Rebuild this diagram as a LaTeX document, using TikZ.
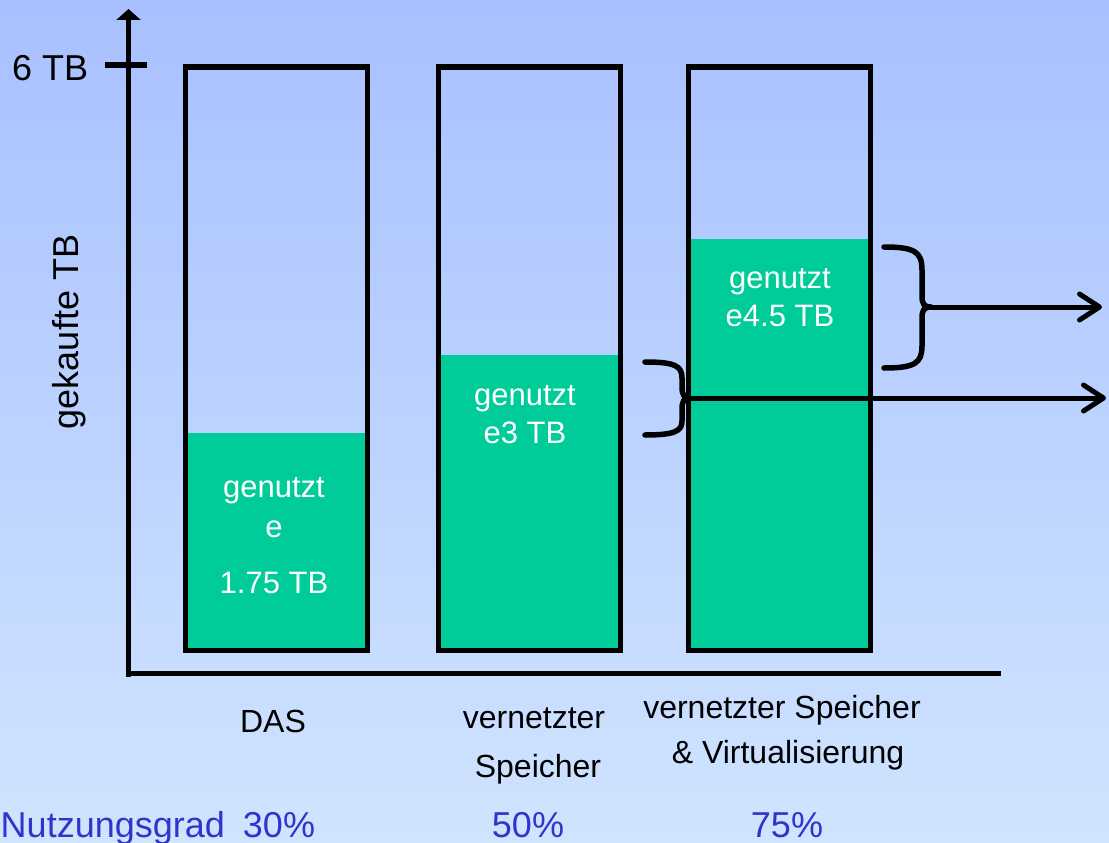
\documentclass[tikz,border=0pt]{standalone}
\usepackage{fontspec}
\setmainfont{Liberation Sans}
\usetikzlibrary{arrows.meta}
\definecolor{bgtop}{RGB}{168,192,255}
\definecolor{bgbot}{RGB}{208,228,255}
\definecolor{used}{RGB}{0,204,153}
\definecolor{ratio}{RGB}{51,51,204}

\begin{document}
\begin{tikzpicture}[x=1pt, y=-1pt, line width=5.5pt,
  txt/.style={inner sep=0pt, anchor=base},
  bartxt/.style={txt, text=white, font=\fontsize{31}{36}\selectfont},
  lbl/.style={txt, font=\fontsize{32}{38}\selectfont},
  axislbl/.style={txt, font=\fontsize{36}{42}\selectfont},
  ratiotxt/.style={txt, text=ratio, font=\fontsize{36}{42}\selectfont},
  usedfill/.style={fill=used, draw=none},
  barframe/.style={draw=black, line width=5.5pt},
  brace/.style={draw=black, line width=5.5pt, line cap=round, line join=round},
  outarrow/.style={draw=black, line width=5pt, -{Straight Barb[length=20pt,width=26pt,round]}},
]
% background
\shade[top color=bgtop, bottom color=bgbot] (0,0) rectangle (1109,843);
\useasboundingbox (0,0) rectangle (1109,843);

% axes
\coordinate (ybase) at (128.5,677);
\coordinate (ytop)  at (128.5,9);
\coordinate (xbase) at (126,673.5);
\coordinate (xend)  at (1001,673.5);
\draw[-{Triangle[length=11pt,width=24pt]}] (ybase) -- (ytop);
\draw (xbase) -- (xend);
\coordinate (tickL) at (105,65);
\coordinate (tickR) at (147,65);
\draw (tickL) -- (tickR);
\node[axislbl, anchor=base east] (sixtb) at (91,81) {6 TB};
\node[axislbl, rotate=90] (ylabel) at (78,332) {gekaufte TB};

% bars: used part, then frame
\fill[used] (185.5,433) rectangle (367.5,650.5);
\draw[barframe] (185.5,67) rectangle (367.5,650.5);
\fill[used] (438.5,355) rectangle (620.5,650.5);
\draw[barframe] (438.5,67) rectangle (620.5,650.5);
\fill[used] (688.5,239) rectangle (870.5,650.5);
\draw[barframe] (688.5,67) rectangle (870.5,650.5);

% text inside bars
\node[bartxt] (u1a) at (274,497) {genutzt};
\node[bartxt] (u1b) at (274,537) {e};
\node[bartxt] (u1c) at (274,593) {1.75 TB};
\node[bartxt] (u2a) at (525,405) {genutzt};
\node[bartxt] (u2b) at (525,443) {e3 TB};
\node[bartxt] (u3a) at (780,288) {genutzt};
\node[bartxt] (u3b) at (780,326) {e4.5 TB};

% braces
\coordinate (tipA) at (690,398);
\coordinate (endA) at (1106,398);
\draw[brace] (645,362) .. controls (675,362) and (682,366) .. (682,378)
  -- (682,387) .. controls (682,395) and (684,398) .. (tipA)
  .. controls (684,398) and (682,401) .. (682,409)
  -- (682,421) .. controls (682,431) and (675,435) .. (645,435);
\coordinate (tipB) at (931,307);
\coordinate (endB) at (1102,307);
\draw[brace] (884,247) .. controls (915,247) and (922,252) .. (922,270)
  -- (922,296) .. controls (922,304) and (924,307) .. (tipB)
  .. controls (924,307) and (922,310) .. (922,318)
  -- (922,346) .. controls (922,363) and (915,368) .. (884,368);
\draw[outarrow] (tipA) -- (endA);
\draw[outarrow] (tipB) -- (endB);

% category labels
\node[lbl] (das) at (273,732) {DAS};
\node[lbl] (vs1) at (534,728) {vernetzter};
\node[lbl] (vs2) at (538,777) {Speicher};
\node[lbl] (vv1) at (782,718) {vernetzter Speicher};
\node[lbl] (vv2) at (788,763) {\& Virtualisierung};

% utilisation figures
\node[ratiotxt, anchor=base west] (ng) at (-2,837) {Nutzungsgrad};
\node[ratiotxt] (r1) at (279,837) {30\%};
\node[ratiotxt] (r2) at (528,837) {50\%};
\node[ratiotxt] (r3) at (787,837) {75\%};
\end{tikzpicture}
\end{document}
